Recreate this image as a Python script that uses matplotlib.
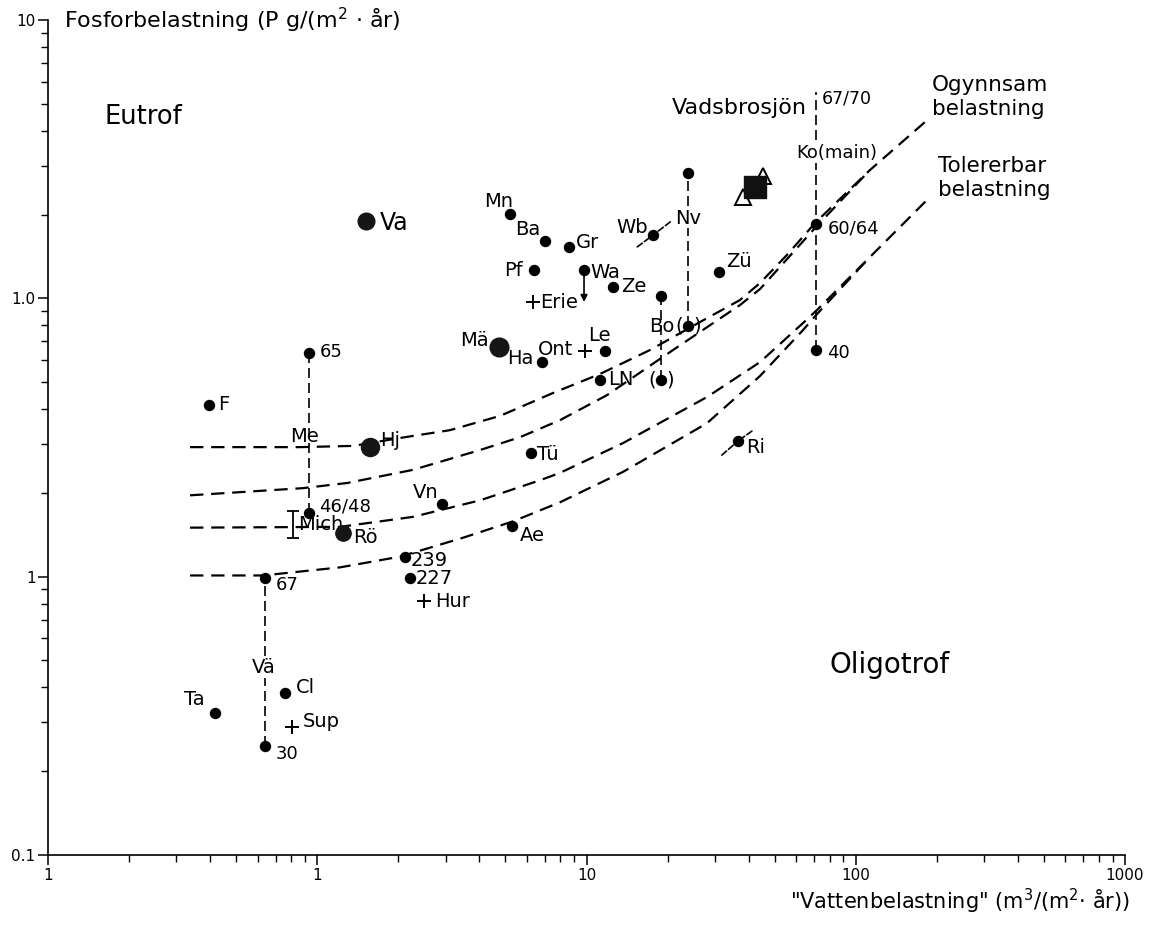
import numpy as np
import matplotlib.pyplot as plt
from matplotlib.ticker import FixedLocator, FixedFormatter, LogLocator, NullFormatter

plt.rcParams['font.family'] = ['DejaVu Sans']

# Sjöar med en mätning: vattenbelastning q (m/år), fosforbelastning L (g/m2/år)
dot_names = ['F', 'Ta', 'Cl', 'Mn', 'Ba', 'Gr', 'Pf', 'Wa', 'Ze', 'Wb',
             'Zü', 'Le', 'LN', 'Ha', 'Tü', 'Vn', 'Ae', '239', '227', 'Ri']
dot_q = [0.396, 0.417, 0.759, 5.20, 7.01, 8.61, 6.38, 9.79, 12.5, 17.7,
         31.0, 11.7, 11.2, 6.84, 6.22, 2.91, 5.29, 2.12, 2.21, 36.5]
dot_L = [0.414, 0.0324, 0.0382, 2.01, 1.607, 1.53, 1.264, 1.264, 1.099, 1.69,
         1.244, 0.647, 0.509, 0.590, 0.278, 0.182, 0.152, 0.1175, 0.0989, 0.307]

# Svenska sjöar (stora punkter)
big_names = ['Va', 'Mä', 'Hj', 'Rö']
big_q = [1.52, 4.73, 1.57, 1.25]
big_L = [1.90, 0.668, 0.292, 0.1435]

# Sjöar med två mätperioder
pair_names = ['Me', 'Vä', 'Nv', 'Bo', 'Ko']
pair_q = [0.93, 0.640, 23.8, 18.9, 71.2]
pair_L_high = [0.636, 0.0989, 2.82, 1.02, 1.85]
pair_L_low = [0.169, 0.0246, 0.795, 0.509, 0.652]
pair_year_high = ['65', '67', '', '', '60/64']
pair_year_low = ['46/48', '30', '', '', '40']
ko_L_top = 5.5

# De stora sjöarna
great_names = ['Erie', 'Ont', 'Hur', 'Sup']
great_q = [6.33, 9.87, 2.49, 0.806]
great_L = [0.97, 0.645, 0.0817, 0.0288]
mich_q = 0.813
mich_L = [0.1376, 0.172]
wa_L_arrow = 0.97

# Vadsbrosjön
vads_q = 42.3
vads_L = 2.51
vads_tri_q = [38.1, 45.3]
vads_tri_L = [2.31, 2.75]

# Belastningskurvor
ogy_a_q = [0.337, 0.863, 1.36, 2.03, 3.11, 4.77, 7.51, 11.23, 17.21, 26.4, 37.16, 44.1, 55.5, 70.6, 112.9, 180.8]
ogy_a_L = [0.292, 0.292, 0.295, 0.315, 0.336, 0.378, 0.457, 0.535, 0.652, 0.822, 0.986, 1.135, 1.431, 1.865, 2.89, 4.30]
ogy_b_q = [0.337, 0.885, 1.29, 2.268, 4.02, 5.66, 7.97, 11.92, 20.96, 37.16, 44.1, 70.6, 112.9]
ogy_b_L = [0.196, 0.208, 0.217, 0.242, 0.285, 0.317, 0.365, 0.449, 0.652, 0.946, 1.080, 1.789, 2.89]
tol_a_q = [0.337, 1.215, 2.268, 4.02, 6.72, 7.97, 13.67, 28.03, 44.1, 63.7, 71.8, 112.9, 183.9]
tol_a_L = [0.150, 0.151, 0.164, 0.188, 0.222, 0.236, 0.302, 0.442, 0.590, 0.815, 0.908, 1.407, 2.256]
tol_b_q = [0.337, 0.629, 1.215, 2.03, 3.478, 5.333, 7.97, 13.67, 28.03, 44.1, 63.7, 71.8, 112.9]
tol_b_L = [0.101, 0.101, 0.108, 0.118, 0.138, 0.158, 0.185, 0.238, 0.356, 0.526, 0.769, 0.878, 1.407]

x_ticks = [0.1, 1, 10, 100, 1000]
x_tick_labels = ['1', '1', '10', '100', '1000']
y_ticks = [0.01, 0.1, 1, 10]
y_tick_labels = ['0.1', '1', '1.0', '10']

# Etikettplacering (pixlar från punkten)
dot_offsets = {
    'F': (9, 0, 'left'), 'Ta': (-10, 13, 'right'), 'Cl': (11, 5, 'left'),
    'Mn': (3, 12, 'right'), 'Ba': (-5, 11, 'right'), 'Gr': (7, 4, 'left'),
    'Pf': (-11, 0, 'right'), 'Wa': (6, -2, 'left'), 'Ze': (9, 0, 'left'),
    'Wb': (-5, 7, 'right'), 'Zü': (7, 10, 'left'), 'Le': (-5, 15, 'center'),
    'LN': (8, 0, 'left'), 'Ha': (-9, 4, 'right'), 'Tü': (6, -1, 'left'),
    'Vn': (-4, 12, 'right'), 'Ae': (8, -9, 'left'), '239': (6, -3, 'left'),
    '227': (6, 0, 'left'), 'Ri': (8, -6, 'left'),
    'Va': (14, -2, 'left'), 'Mä': (-10, 7, 'right'), 'Hj': (10, 7, 'left'),
    'Rö': (10, -4, 'left'),
    'Erie': (7, 0, 'left'), 'Ont': (-12, 2, 'right'), 'Hur': (11, 0, 'left'),
    'Sup': (11, 6, 'left'),
}
big_sizes = [12, 13.5, 13, 11]

fig, ax = plt.subplots(figsize=(11.49, 9.27), dpi=100)
fig.subplots_adjust(left=48 / 1149, right=1125 / 1149, bottom=72 / 927, top=907 / 927)
ax.set_xscale('log')
ax.set_yscale('log')
ax.set_xlim(0.1, 1000)
ax.set_ylim(0.01, 10)
for side in ['top', 'right']:
    ax.spines[side].set_visible(False)
for side in ['left', 'bottom']:
    ax.spines[side].set_linewidth(1.2)

ax.xaxis.set_major_locator(FixedLocator(x_ticks))
ax.xaxis.set_major_formatter(FixedFormatter(x_tick_labels))
ax.yaxis.set_major_locator(FixedLocator(y_ticks))
ax.yaxis.set_major_formatter(FixedFormatter(y_tick_labels))
for axis in [ax.xaxis, ax.yaxis]:
    axis.set_minor_locator(LogLocator(base=10, subs=np.arange(2, 10), numticks=50))
    axis.set_minor_formatter(NullFormatter())
ax.tick_params(which='major', direction='out', length=7, width=1.1, labelsize=11, pad=2)
ax.tick_params(which='minor', direction='out', length=5, width=1.0)


def label(x, y, s, dx, dy, ha='left', size=14, **kw):
    ax.annotate(s, (x, y), xytext=(dx, dy), textcoords='offset pixels',
                ha=ha, va='center', fontsize=size, **kw)


# belastningskurvor
curve_style = dict(color='black', lw=1.6, linestyle=(0, (6, 3.5)), zorder=1)
ax.plot(ogy_a_q, ogy_a_L, **curve_style)
ax.plot(ogy_b_q, ogy_b_L, **curve_style)
ax.plot(tol_a_q, tol_a_L, **curve_style)
ax.plot(tol_b_q, tol_b_L, **curve_style)

# vertikala linjer för sjöar med två perioder
vline_style = dict(color='black', lw=1.2, linestyle=(0, (6, 3)), zorder=2)
for i, name in enumerate(pair_names):
    top = ko_L_top if name == 'Ko' else pair_L_high[i]
    ax.plot([pair_q[i], pair_q[i]], [pair_L_low[i], top], **vline_style)
    ax.plot([pair_q[i]] * 2, [pair_L_high[i], pair_L_low[i]], 'o', color='black', ms=7.2, zorder=4)
    if pair_year_high[i]:
        label(pair_q[i], pair_L_high[i], pair_year_high[i], 11 if name != 'Ko' else 12,
              1 if name == 'Me' else (-7 if name == 'Vä' else -5), size=13)
    if pair_year_low[i]:
        label(pair_q[i], pair_L_low[i], pair_year_low[i], 10 if name == 'Me' else 11,
              7 if name == 'Me' else (-8 if name == 'Vä' else -3), size=13)

bg = dict(boxstyle='square,pad=0.05', fc='white', ec='none')
label(pair_q[0], pair_L_high[0], 'Me', -4, -83, ha='center', size=14)
label(pair_q[1], pair_L_low[1], 'Vä', -1, 79, ha='center', size=14, bbox=bg)
label(pair_q[2], pair_L_high[2], 'Nv', 0, -45, ha='center', size=14, bbox=bg)
label(pair_q[2], pair_L_low[2], 'Bo', -13, 0, ha='right', size=14)
for k in [2, 3]:
    label(pair_q[k], pair_L_low[k], '(', -9, 0, ha='center', size=14)
    label(pair_q[k], pair_L_low[k], ')', 9, 0, ha='center', size=14)
label(pair_q[4], ko_L_top, '67/70', 6, -6, size=12.5)
label(pair_q[4], pair_L_high[4], 'Ko(main)', 21, 71, ha='center', size=13, bbox=bg)

# enskilda sjöar
ax.plot(dot_q, dot_L, 'o', color='black', ms=7.2, zorder=4)
for name, q, L in zip(dot_names, dot_q, dot_L):
    dx, dy, ha = dot_offsets[name]
    label(q, L, name, dx, dy, ha=ha)

for name, q, L, ms in zip(big_names, big_q, big_L, big_sizes):
    ax.plot(q, L, 'o', color='#151515', ms=ms, zorder=4)
    dx, dy, ha = dot_offsets[name]
    label(q, L, name, dx, dy, ha=ha, size=17 if name == 'Va' else 14)

# korta streck genom Wb och Ri
seg_style = dict(arrowstyle='-', lw=1.2, linestyle='--', shrinkA=0, shrinkB=0, color='black')
for name, ends in [('Wb', [(-16, -12), (17, 13)]), ('Ri', [(-16, -14), (14, 10)])]:
    i = dot_names.index(name)
    for e in ends:
        ax.annotate('', (dot_q[i], dot_L[i]), xytext=e, textcoords='offset pixels',
                    arrowprops=seg_style)

# Wa: pil nedåt
i = dot_names.index('Wa')
ax.annotate('', (dot_q[i], wa_L_arrow), xytext=(dot_q[i], dot_L[i]),
            arrowprops=dict(arrowstyle='-|>', lw=1.2, color='black',
                            mutation_scale=10, shrinkA=0, shrinkB=0))

# stora sjöarna
ax.plot(great_q, great_L, '+', color='black', ms=10, mew=1.4, zorder=4)
for name, q, L in zip(great_names, great_q, great_L):
    dx, dy, ha = dot_offsets[name]
    label(q, L, name, dx, dy, ha=ha)
mich_mid = np.sqrt(mich_L[0] * mich_L[1])
ax.errorbar([mich_q], [mich_mid], yerr=[[mich_mid - mich_L[0]], [mich_L[1] - mich_mid]],
            fmt='none', ecolor='black', elinewidth=1.3, capsize=4, capthick=1.3)
label(mich_q, mich_mid, 'Mich', 5, 0)

# Vadsbrosjön
ax.plot(vads_tri_q, vads_tri_L, '^', mfc='white', mec='black', mew=1.4, ms=11, zorder=5)
ax.plot(vads_q, vads_L, 's', color='#111111', ms=16, zorder=6)
label(vads_q, vads_L, 'Vadsbrosjön', -16, 79, ha='center', size=16)

# kurvnamn
label(ogy_a_q[-1], ogy_a_L[-1], 'Ogynnsam\nbelastning', 7, 25, size=15.5, linespacing=1.3)
label(tol_a_q[-1], tol_a_L[-1], 'Tolererbar\nbelastning', 11, 22, size=15.5, linespacing=1.3)

ax.text(0.052, 0.884, 'Eutrof', transform=ax.transAxes, fontsize=18.5, va='center')
ax.text(0.726, 0.2275, 'Oligotrof', transform=ax.transAxes, fontsize=20, va='center')

ax.text(0.0149, 1.0, 'Fosforbelastning (P g/(m$^2$ · år)', transform=ax.transAxes,
        fontsize=16, va='center', ha='left')
ax.text(1.0046, -0.056, '"Vattenbelastning" (m$^3$/(m$^2$· år))', transform=ax.transAxes,
        fontsize=15, va='center', ha='right')

fig.savefig('out.png', dpi=100)
